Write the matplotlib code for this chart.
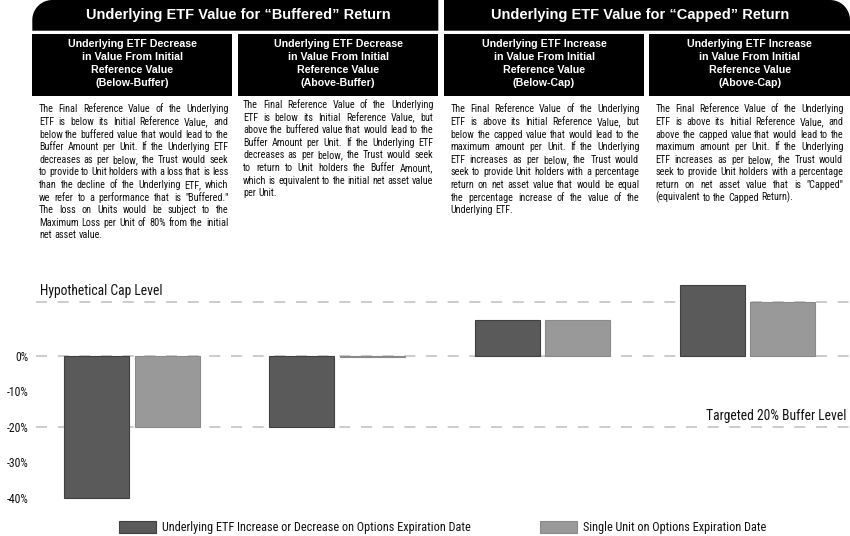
"""Buffered / capped return illustration: four text panels and a grouped bar chart."""
import numpy as np
import matplotlib
matplotlib.use("Agg")
import matplotlib.pyplot as plt
from matplotlib import font_manager
from matplotlib.patches import Polygon, Rectangle

W, H = 850, 536

# ---- data ----
scenarios = ["Below-Buffer", "Above-Buffer", "Below-Cap", "Above-Cap"]
etf_change = [-40, -20, 10, 20]          # underlying ETF increase/decrease (%)
unit_return = [-20, -0.4, 10, 15]        # single unit return (%)
cap_level = 15
buffer_level = -20
ytick_values = [0, -10, -20, -30, -40]
ytick_labels = [f"{v}%" for v in ytick_values]

series_labels = ["Underlying ETF Increase or Decrease on Options Expiration Date",
                 "Single Unit on Options Expiration Date"]
group_titles = ["Underlying ETF Value for \u201cBuffered\u201d Return",
                "Underlying ETF Value for \u201cCapped\u201d Return"]
box_titles = [
    ["Underlying ETF Decrease", "in Value From Initial", "Reference Value", "(Below-Buffer)"],
    ["Underlying ETF Decrease", "in Value From Initial", "Reference Value", "(Above-Buffer)"],
    ["Underlying ETF Increase", "in Value From Initial", "Reference Value", "(Below-Cap)"],
    ["Underlying ETF Increase", "in Value From Initial", "Reference Value", "(Above-Cap)"],
]
box_texts = [
    ["The Final Reference Value of the Underlying",
     "ETF is below its Initial Reference Value, and",
     "below the buffered value that would lead to the",
     "Buffer Amount per Unit. If the Underlying ETF",
     "decreases as per below, the Trust would seek",
     "to provide to Unit holders with a loss that is less",
     "than the decline of the Underlying ETF, which",
     "we refer to a performance that is \"Buffered.\"",
     "The loss on Units would be subject to the",
     "Maximum Loss per Unit of 80% from the initial",
     "net asset value."],
    ["The Final Reference Value of the Underlying",
     "ETF is below its Initial Reference Value, but",
     "above the buffered value that would lead to the",
     "Buffer Amount per Unit. If the Underlying ETF",
     "decreases as per below, the Trust would seek",
     "to return to Unit holders the Buffer Amount,",
     "which is equivalent to the initial net asset value",
     "per Unit."],
    ["The Final Reference Value of the Underlying",
     "ETF is above its Initial Reference Value, but",
     "below the capped value that would lead to the",
     "maximum amount per Unit. If the Underlying",
     "ETF increases as per below, the Trust would",
     "seek to provide Unit holders with a percentage",
     "return on net asset value that would be equal",
     "the percentage increase of the value of the",
     "Underlying ETF."],
    ["The Final Reference Value of the Underlying",
     "ETF is above its Initial Reference Value, and",
     "above the capped value that would lead to the",
     "maximum amount per Unit. If the Underlying",
     "ETF increases as per below, the Trust would",
     "seek to provide Unit holders with a percentage",
     "return on net asset value that is \"Capped\"",
     "(equivalent to the Capped Return)."],
]

DARK = "#5a5a5a"
LIGHT = "#999999"
GRID = "#c4c4c4"
INK = "#111111"


def pick_family(names):
    for n in names:
        try:
            font_manager.findfont(n, fallback_to_default=False)
            return [n, "DejaVu Sans"]
        except ValueError:
            pass
    return ["DejaVu Sans"]


NARROW = pick_family(["Liberation Sans Narrow", "Arial Narrow", "Roboto Condensed",
                      "DejaVu Sans Condensed", "Liberation Sans"])
BOLD = pick_family(["Liberation Sans", "Arial"])


def fx(x):
    return x / W


def fy(y):
    return 1 - y / H


fig = plt.figure(figsize=(W / 100, H / 100), dpi=100)
fig.canvas.draw()
R = fig.canvas.get_renderer()


def text_width(s, size, family=NARROW, **kw):
    t = fig.text(0, 0, s, fontsize=size, family=family, **kw)
    w = t.get_window_extent(R).width
    t.remove()
    return w


def fit_size(s, target_px, max_size, family=NARROW, **kw):
    # font size that gives the string the width measured in the reference
    w = text_width(s, 10, family, **kw)
    return min(max_size, 10 * target_px / w)


def header_shape(x0, x1, y0, y1, r, corner):
    # rectangle with one rounded top corner, in pixel coords (y down)
    t = np.linspace(0, np.pi / 2, 20)
    if corner == "left":
        arc = [(x0 + r - r * np.cos(a), y0 + r - r * np.sin(a)) for a in t]
        pts = [(x0, y1)] + arc + [(x1, y0), (x1, y1)]
    else:
        arc = [(x1 - r + r * np.sin(a), y0 + r - r * np.cos(a)) for a in t]
        pts = [(x0, y1), (x0, y0)] + arc + [(x1, y1)]
    return Polygon([(fx(a), fy(b)) for a, b in pts], closed=True,
                   transform=fig.transFigure, facecolor="black", edgecolor="none")


def justified(lines, x0, x1, y0, dy, size):
    sw = text_width("a a", size) - text_width("aa", size)
    for i, line in enumerate(lines):
        words = line.split()
        y = fy(y0 + i * dy)
        items = [fig.text(0, y, w, fontsize=size, family=NARROW, va="center",
                          color=INK) for w in words]
        widths = [t.get_window_extent(R).width for t in items]
        if i == len(lines) - 1 or len(words) == 1:
            gap = sw
        else:
            gap = max(sw * 0.6, (x1 - x0 - sum(widths)) / (len(words) - 1))
        x = x0
        for t, w in zip(items, widths):
            t.set_x(fx(x))
            x += w + gap


# ---- top headers ----
fig.add_artist(header_shape(32.3, 438.3, 0, 30.7, 20, "left"))
fig.add_artist(header_shape(444, 850, 0, 30.7, 20, "right"))
fig.text(fx(238), fy(15), group_titles[0], color="white", fontsize=10.5,
         fontweight="bold", family=BOLD, ha="center", va="center")
fig.text(fx(640.3), fy(15), group_titles[1], color="white", fontsize=10.5,
         fontweight="bold", family=BOLD, ha="center", va="center")

para_size = fit_size("which is equivalent to the initial net asset value", 187, 7.35)

box_x = [(32.3, 232), (237.7, 438.3), (444, 644), (649.3, 850)]
para_x = [(39, 228.3), (243, 433.3), (450.7, 639.3), (655.7, 843.3)]
para_y = [109.5, 105, 109.5, 109.5]
for (bx0, bx1), title, (px0, px1), py, text in zip(box_x, box_titles, para_x, para_y, box_texts):
    fig.add_artist(Rectangle((fx(bx0), fy(96)), fx(bx1 - bx0), (96 - 34.5) / H,
                             transform=fig.transFigure, facecolor="black", edgecolor="none"))
    for j, line in enumerate(title):
        fig.text(fx((bx0 + bx1) / 2), fy(44.3 + j * 12.9), line, color="white",
                 fontsize=7.7, fontweight="bold", family=BOLD, ha="center", va="center")
    justified(text, px0, px1, py, 12.6, para_size)

# ---- bar chart ----
ylo, yhi = -42, 22
px_per = 3.55
bottom = (H - (355.7 - px_per * ylo)) / H
height = (yhi - ylo) * px_per / H
ax = fig.add_axes([fx(35.7), bottom, 1 - fx(35.7), height])

x = np.arange(len(scenarios))
bw = 0.317
off = 0.172
ax.bar(x - off, etf_change, bw, color=DARK, edgecolor="#404040", linewidth=0.8, zorder=3)
ax.bar(x + off, unit_return, bw, color=LIGHT, edgecolor="#8a8a8a", linewidth=0.8, zorder=3)

for lvl in (cap_level, 0, buffer_level):
    ax.axhline(lvl, color=GRID, linewidth=1.2, dashes=(6.6, 6.4), zorder=1)

ax.set_xlim(-0.47, 3.5)
ax.set_ylim(ylo, yhi)
ax.set_xticks([])
ax.set_yticks(ytick_values)
tick_size = fit_size("-40%", 24, 8.5)
ax.set_yticklabels(ytick_labels, family=NARROW, fontsize=tick_size)
ax.tick_params(axis="y", length=0, pad=5, labelcolor=INK)
for s in ax.spines.values():
    s.set_visible(False)
ax.patch.set_alpha(0)

label_size = fit_size("Hypothetical Cap Level", 122, 10.4)
ax.text((40 - 35.7) / (850 - 35.7), cap_level + 3.3, "Hypothetical Cap Level",
        transform=ax.get_yaxis_transform(), family=NARROW, fontsize=label_size,
        va="center", ha="left", color=INK)
ax.text((846 - 35.7) / (850 - 35.7), buffer_level + 3.1, "Targeted 20% Buffer Level",
        transform=ax.get_yaxis_transform(), family=NARROW, fontsize=label_size,
        va="center", ha="right", color=INK)

# ---- legend ----
legend_size = fit_size(series_labels[0], 306, 9.6)
for (lx, col, ec), lab in zip([(119, DARK, "#404040"), (540, LIGHT, "#8a8a8a")], series_labels):
    fig.add_artist(Rectangle((fx(lx), fy(532.7)), fx(36.7), 11.7 / H,
                             transform=fig.transFigure, facecolor=col, edgecolor=ec,
                             linewidth=0.8))
    fig.text(fx(lx + 42.7), fy(527), lab, family=NARROW, fontsize=legend_size,
             va="center", ha="left", color=INK)

fig.savefig("out.png", dpi=100)
